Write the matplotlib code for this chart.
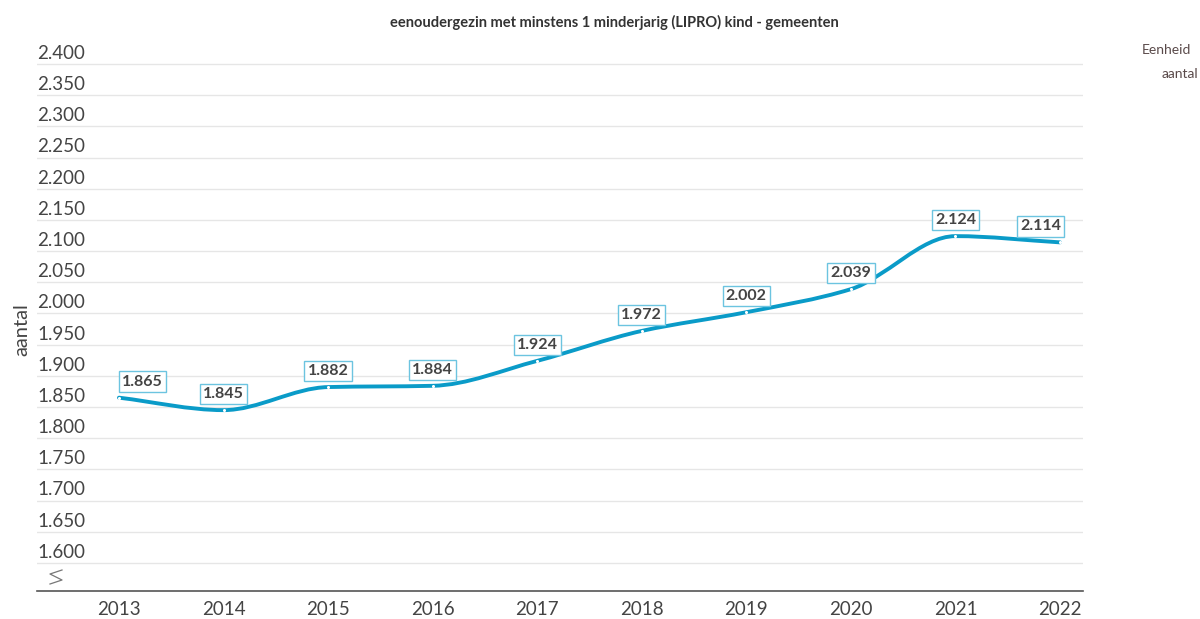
import numpy as np
import matplotlib.pyplot as plt
from matplotlib.path import Path
from matplotlib.patches import PathPatch
from matplotlib.transforms import blended_transform_factory, offset_copy

# Data
years = [2013, 2014, 2015, 2016, 2017, 2018, 2019, 2020, 2021, 2022]
values = [1.865, 1.845, 1.882, 1.884, 1.924, 1.972, 2.002, 2.039, 2.124, 2.114]
labels = ['1.865', '1.845', '1.882', '1.884', '1.924', '1.972', '2.002', '2.039', '2.124', '2.114']
yticks = [1.600, 1.650, 1.700, 1.750, 1.800, 1.850, 1.900, 1.950,
          2.000, 2.050, 2.100, 2.150, 2.200, 2.250, 2.300, 2.350, 2.400]
ytick_labels = ['1.600', '1.650', '1.700', '1.750', '1.800', '1.850', '1.900', '1.950',
                '2.000', '2.050', '2.100', '2.150', '2.200', '2.250', '2.300', '2.350', '2.400']

title = 'eenoudergezin met minstens 1 minderjarig (LIPRO) kind - gemeenten'
line_color = '#0a9bc8'
box_color = '#6cc4e0'
text_color = '#444444'
font = ['Lato', 'DejaVu Sans']

plt.rcParams['font.family'] = font

fig = plt.figure(figsize=(12, 6.19), dpi=100)
W, H = 1200, 619
ax = fig.add_axes([37 / W, 1 - 591 / H, (1083 - 37) / W, (591 - 60) / H])

ax.set_xlim(2013 - 0.784, 2022 + 0.22)
ax.set_ylim(1.555, 2.4064)

for s in ['top', 'right', 'left']:
    ax.spines[s].set_visible(False)
ax.spines['bottom'].set_color('#555555')
ax.spines['bottom'].set_linewidth(1.2)

# gridlines
ax.set_yticks(yticks)
ax.set_yticklabels([])
ax.tick_params(axis='y', length=0)
ax.grid(axis='y', color='#e6e6e6', linewidth=1)
ax.set_axisbelow(True)

# y tick labels above gridlines, left aligned
trans = blended_transform_factory(ax.transAxes, ax.transData)
for v, lab in zip(yticks, ytick_labels):
    ax.text(0.0, v, lab, transform=offset_copy(trans, fig=fig, x=0, y=1.5, units='points'),
            ha='left', va='bottom', fontsize=13.5, color=text_color)

ax.set_xticks(years)
ax.set_xticklabels([str(y) for y in years], fontsize=13.5, color=text_color)
ax.tick_params(axis='x', length=0, pad=7)

# smooth (monotone cubic) line drawn as bezier path
x = np.array(years, dtype=float)
y = np.array(values)
n = len(x)
h = np.diff(x)
d = np.diff(y) / h
m = np.zeros(n)
m[0], m[-1] = d[0], d[-1]
for i in range(1, n - 1):
    if d[i - 1] * d[i] <= 0:
        m[i] = 0
    else:
        m[i] = (3 * (h[i - 1] + h[i])) / ((2 * h[i] + h[i - 1]) / d[i - 1] + (h[i] + 2 * h[i - 1]) / d[i])
verts = [(x[0], y[0])]
codes = [Path.MOVETO]
for i in range(n - 1):
    dx = h[i] / 3
    verts += [(x[i] + dx, y[i] + m[i] * dx), (x[i + 1] - dx, y[i + 1] - m[i + 1] * dx), (x[i + 1], y[i + 1])]
    codes += [Path.CURVE4] * 3
ax.add_patch(PathPatch(Path(verts, codes), facecolor='none', edgecolor=line_color,
                       linewidth=2.8, capstyle='round', zorder=3))
ax.plot(years, values, linestyle='none', marker='o', markersize=2.2,
        markerfacecolor='white', markeredgewidth=0, zorder=4)

# data labels
offsets = [(2, 'left'), (0, 'center'), (0, 'center'), (0, 'center'), (0, 'center'),
           (0, 'center'), (0, 'center'), (0, 'center'), (0, 'center'), (-14, 'center')]
for (xv, yv, lab), (dx, ha) in zip(zip(years, values, labels), offsets):
    ax.annotate(lab, (xv, yv), xytext=(dx, 11.5), textcoords='offset points',
                ha=ha, va='center', fontsize=11.5, fontweight='bold', color=text_color,
                bbox=dict(boxstyle='square,pad=0.2', facecolor='white',
                          edgecolor=box_color, linewidth=1), zorder=5)

# axis break symbol
bx = np.array([62, 50, 62, 50]) / W
by = 1 - np.array([570, 574, 580, 584]) / H
fig.add_artist(plt.Line2D(bx, by, color='#777777', linewidth=0.9))

# titles and labels
fig.text(0.512, 1 - 22 / H, title, ha='center', va='center', fontsize=10.5,
         fontweight='bold', color='#333333')
fig.text(22 / W, 1 - 330 / H, 'aantal', rotation=90, ha='center', va='center',
         fontsize=14.5, color=text_color)
fig.text(1191 / W, 1 - 50 / H, 'Eenheid', ha='right', va='center', fontsize=10, color='#5a4a4a')
fig.text(1198 / W, 1 - 74 / H, 'aantal', ha='right', va='center', fontsize=10, color='#5a4a4a')

fig.savefig('out.png', dpi=100)
